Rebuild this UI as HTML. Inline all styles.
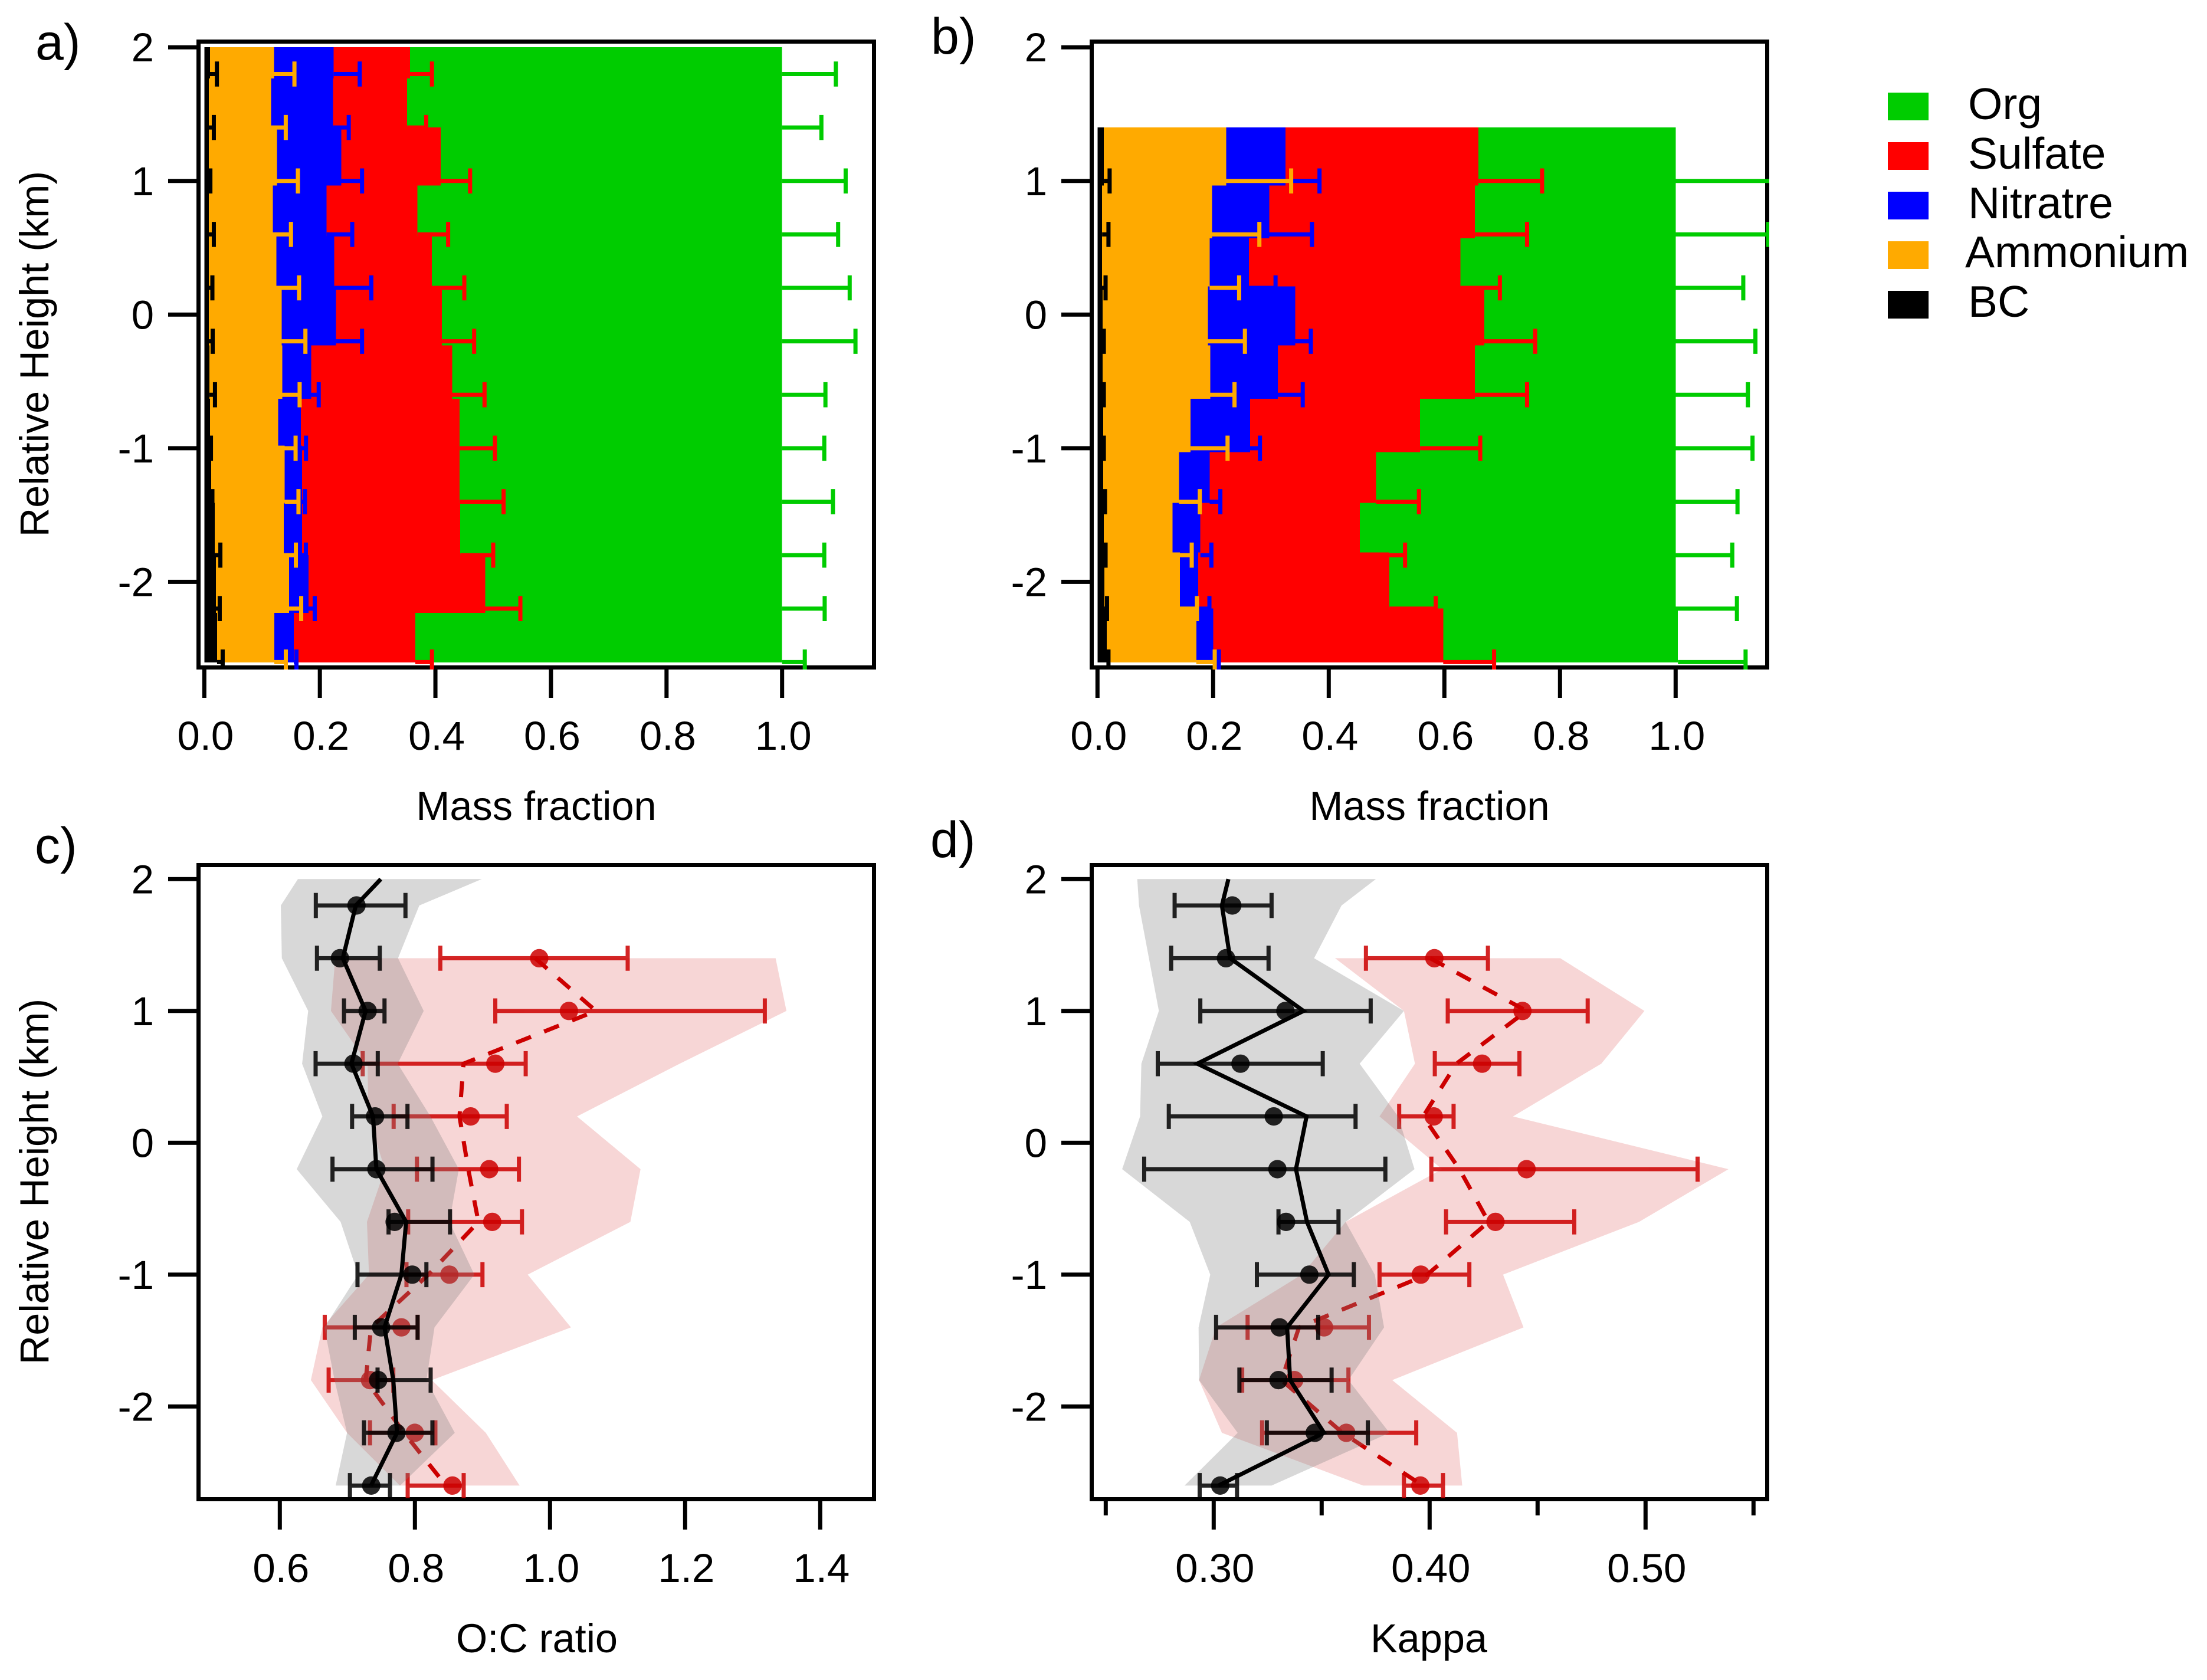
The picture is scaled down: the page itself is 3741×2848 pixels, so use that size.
<!DOCTYPE html>
<html>
<head>
<meta charset="utf-8">
<title>Mass fraction, O:C ratio and Kappa profiles</title>
<style>
html,body{margin:0;padding:0;background:#fff;}
svg{display:block;font-family:"Liberation Sans",Arial,sans-serif;}
</style>
</head>
<body>
<svg id="fig" xmlns="http://www.w3.org/2000/svg" width="3741" height="2848" viewBox="0 0 3741 2848">
  <rect width="3741" height="2848" fill="#fff"/>
  <g id="legend" font-size="75" fill="#000">
    <rect x="3200" y="157" width="69" height="47" fill="#00cc00"/>
    <text x="3336" y="202">Org</text>
    <rect x="3200" y="241" width="69" height="47" fill="#ff0000"/>
    <text x="3336" y="286">Sulfate</text>
    <rect x="3200" y="325" width="69" height="47" fill="#0000ff"/>
    <text x="3336" y="370">Nitratre</text>
    <rect x="3200" y="409" width="69" height="47" fill="#ffaa00"/>
    <text x="3331" y="453">Ammonium</text>
    <rect x="3200" y="493" width="69" height="47" fill="#000"/>
    <text x="3336" y="537">BC</text>
  </g>
  <g font-size="86" fill="#000">
    <text x="60" y="101">a)</text>
    <text x="1578" y="91">b)</text>
    <text x="59" y="1463">c)</text>
    <text x="1577" y="1453">d)</text>
  </g>
  <g font-size="68.5" fill="#000">
    <text x="909" y="1390" text-anchor="middle">Mass fraction</text>
    <text x="2423" y="1390" text-anchor="middle">Mass fraction</text>
    <text x="910" y="2801" text-anchor="middle">O:C ratio</text>
    <text x="2422" y="2801" text-anchor="middle">Kappa</text>
    <text transform="translate(82,600) rotate(-90)" text-anchor="middle">Relative Height (km)</text>
    <text transform="translate(82,2003) rotate(-90)" text-anchor="middle">Relative Height (km)</text>
  </g>
</svg>
<script>
// ---------- shared tick arrays ----------
const yTicks = [2, 1, 0, -1, -2];
const fractionTicks = [0, 0.2, 0.4, 0.6, 0.8, 1.0];
const ocTicks = [0.6, 0.8, 1.0, 1.2, 1.4];
const kappaMajorTicks = [0.30, 0.40, 0.50];
const kappaMinorTicks = [0.25, 0.35, 0.45, 0.55];

// ---------- panel a: stacked mass fraction (cumulative right edges) ----------
const aBinEdges = [2, 1.768, 1.40, 0.965, 0.586, 0.21, -0.23, -0.63, -0.98, -1.41, -1.80, -2.232, -2.603];
const aHeights = [1.8, 1.4, 1.0, 0.6, 0.2, -0.2, -0.6, -1.0, -1.4, -1.8, -2.2, -2.6];
const aBc = [0.0099, 0.0079, 0.0079, 0.0079, 0.008, 0.008, 0.009, 0.01, 0.012, 0.018, 0.0201, 0.0221];
const aAmmonium = [0.1207, 0.1155, 0.1258, 0.1186, 0.1247, 0.134, 0.135, 0.128, 0.139, 0.1375, 0.1467, 0.1212];
const aNitrate = [0.224, 0.223, 0.237, 0.2117, 0.225, 0.228, 0.185, 0.167, 0.169, 0.169, 0.1804, 0.155];
const aSulfate = [0.356, 0.351, 0.409, 0.369, 0.394, 0.411, 0.429, 0.442, 0.442, 0.443, 0.486, 0.3652];
const aOrg = [1, 1, 1, 1, 1, 1, 1, 1, 1, 1, 1, 1];
const aBcErr = [0.0218, 0.0165, 0.0105, 0.0165, 0.014, 0.0145, 0.0185, 0.0115, 0.014, 0.0278, 0.0267, 0.0318];
const aAmmoniumErr = [0.156, 0.141, 0.162, 0.15, 0.164, 0.175, 0.165, 0.158, 0.163, 0.1585, 0.1677, 0.1411];
const aNitrateErr = [0.269, 0.25, 0.273, 0.256, 0.289, 0.273, 0.198, 0.176, 0.174, 0.1758, 0.1911, 0.1595];
const aSulfateErr = [0.394, 0.384, 0.46, 0.422, 0.45, 0.467, 0.485, 0.503, 0.518, 0.5, 0.547, 0.394];
const aOrgErr = [1.093, 1.068, 1.11, 1.097, 1.117, 1.127, 1.075, 1.073, 1.088, 1.073, 1.0737, 1.0393];

// ---------- panel b: stacked mass fraction (cumulative right edges) ----------
const bBinEdges = [1.40, 0.965, 0.57, 0.21, -0.23, -0.63, -1.03, -1.41, -1.78, -2.2, -2.603];
const bHeights = [1.0, 0.6, 0.2, -0.2, -0.6, -1.0, -1.4, -1.8, -2.2, -2.6];
const bBc = [0.011, 0.008, 0.008, 0.009, 0.009, 0.01, 0.01, 0.011, 0.012, 0.016];
const bAmmonium = [0.2225, 0.198, 0.194, 0.191, 0.195, 0.161, 0.141, 0.13, 0.1425, 0.171];
const bNitrate = [0.325, 0.297, 0.262, 0.342, 0.312, 0.264, 0.194, 0.178, 0.174, 0.2];
const bSulfate = [0.659, 0.653, 0.628, 0.669, 0.653, 0.558, 0.482, 0.454, 0.505, 0.598];
const bOrg = [1, 1, 1, 1, 1, 1, 1, 1, 1, 1.004];
const bBcErr = [0.021, 0.019, 0.014, 0.011, 0.011, 0.011, 0.013, 0.014, 0.0165, 0.019];
const bAmmoniumErr = [0.335, 0.28, 0.245, 0.255, 0.237, 0.225, 0.177, 0.163, 0.172, 0.2028];
const bNitrateErr = [0.384, 0.371, 0.308, 0.369, 0.355, 0.281, 0.2125, 0.197, 0.1936, 0.2099];
const bSulfateErr = [0.769, 0.743, 0.696, 0.757, 0.743, 0.662, 0.556, 0.532, 0.585, 0.686];
const bOrgErr = [1.2, 1.16, 1.117, 1.138, 1.125, 1.133, 1.107, 1.098, 1.106, 1.121];

// ---------- panel c: O:C ratio ----------
const cGreyHeights = [2, 1.8, 1.4, 1.0, 0.6, 0.2, -0.2, -0.6, -1.0, -1.4, -1.8, -2.2, -2.6];
const cPointHeights = [1.8, 1.4, 1.0, 0.6, 0.2, -0.2, -0.6, -1.0, -1.4, -1.8, -2.2, -2.6];
const cRedHeights = [1.4, 1.0, 0.6, 0.2, -0.2, -0.6, -1.0, -1.4, -1.8, -2.2, -2.6];
const cGreyLow = [0.6268, 0.6015, 0.603, 0.642, 0.633, 0.663, 0.625, 0.69, 0.716, 0.666, 0.681, 0.6995, 0.6827];
const cGreyHigh = [0.899, 0.8065, 0.775, 0.813, 0.7745, 0.823, 0.865, 0.851, 0.888, 0.829, 0.817, 0.859, 0.778];
const cBlackLine = [0.7495, 0.7125, 0.6933, 0.727, 0.706, 0.738, 0.743, 0.787, 0.78, 0.755, 0.768, 0.7735, 0.735];
const cBlackDots = [0.7135, 0.689, 0.73, 0.709, 0.741, 0.743, 0.77, 0.796, 0.75, 0.7456, 0.7727, 0.7353];
const cBlackLo = [0.6533, 0.655, 0.695, 0.653, 0.707, 0.678, 0.761, 0.715, 0.711, 0.7447, 0.7246, 0.7038];
const cBlackHi = [0.786, 0.748, 0.755, 0.745, 0.789, 0.826, 0.852, 0.817, 0.804, 0.8233, 0.8259, 0.7631];
const cPinkLow = [0.682, 0.6757, 0.73, 0.731, 0.7555, 0.729, 0.732, 0.663, 0.646, 0.6995, 0.7778];
const cPinkHigh = [1.334, 1.35, 1.192, 1.04, 1.134, 1.119, 0.967, 1.031, 0.825, 0.905, 0.955];
const cRedLine = [0.978, 1.068, 0.872, 0.866, 0.879, 0.894, 0.82, 0.735, 0.7272, 0.784, 0.846];
const cRedDots = [0.984, 1.028, 0.919, 0.8825, 0.91, 0.9145, 0.851, 0.78, 0.7335, 0.7998, 0.8556];
const cRedLo = [0.8376, 0.919, 0.7227, 0.7685, 0.803, 0.79, 0.7875, 0.6665, 0.6723, 0.7335, 0.7893];
const cRedHi = [1.115, 1.318, 0.964, 0.936, 0.954, 0.9585, 0.9, 0.804, 0.768, 0.8303, 0.8722];

// ---------- panel d: Kappa ----------
const dGreyLow = [0.2646, 0.2654, 0.27, 0.2746, 0.2665, 0.2659, 0.2576, 0.2889, 0.2984, 0.293, 0.2932, 0.3111, 0.2865];
const dGreyHigh = [0.3751, 0.3592, 0.3465, 0.3881, 0.3676, 0.3854, 0.393, 0.3611, 0.3746, 0.3789, 0.3624, 0.3814, 0.3268];
const dBlackLine = [0.3068, 0.3038, 0.3076, 0.3416, 0.2924, 0.343, 0.3381, 0.3432, 0.3532, 0.334, 0.3354, 0.3511, 0.3022];
const dBlackDots = [0.3086, 0.3057, 0.3332, 0.3124, 0.3278, 0.3295, 0.3335, 0.3443, 0.3305, 0.33, 0.3468, 0.303];
const dBlackLo = [0.2819, 0.2803, 0.2938, 0.2741, 0.2792, 0.2678, 0.33, 0.32, 0.3011, 0.3119, 0.3246, 0.2935];
const dBlackHi = [0.3268, 0.3254, 0.3727, 0.3505, 0.3657, 0.3795, 0.3578, 0.3649, 0.3484, 0.3546, 0.3714, 0.3108];
const dPinkLow = [0.3562, 0.3881, 0.3932, 0.3768, 0.4057, 0.3611, 0.3408, 0.3011, 0.2932, 0.3038, 0.3692];
const dPinkHigh = [0.4605, 0.4995, 0.4795, 0.4386, 0.5384, 0.497, 0.434, 0.4435, 0.3827, 0.4127, 0.4151];
const dRedLine = [0.4003, 0.4449, 0.4124, 0.397, 0.4138, 0.4273, 0.3989, 0.3395, 0.3314, 0.3597, 0.3968];
const dRedDots = [0.4022, 0.443, 0.4243, 0.4019, 0.4449, 0.4305, 0.3959, 0.3511, 0.3373, 0.3614, 0.3957];
const dRedLo = [0.3705, 0.4084, 0.4024, 0.3859, 0.4008, 0.4076, 0.3768, 0.3157, 0.3132, 0.3224, 0.3881];
const dRedHi = [0.427, 0.4732, 0.4416, 0.4111, 0.5241, 0.467, 0.4184, 0.3719, 0.3624, 0.3938, 0.4062];

// ---------- drawing ----------
const NS = 'http://www.w3.org/2000/svg';
const svg = document.getElementById('fig');
function add(parent, tag, attrs) {
  const n = document.createElementNS(NS, tag);
  for (const k in attrs) n.setAttribute(k, attrs[k]);
  parent.appendChild(n);
  return n;
}
function linear(v0, p0, v1, p1) { return v => p0 + (v - v0) * (p1 - p0) / (v1 - v0); }

const yTop = linear(2, 80.2, -2, 986.4);
const yBot = linear(2, 1490.3, -2, 2384.3);
const xA = linear(0, 346.3, 1, 1325.7);
const xB = linear(0, 1860.3, 1, 2840.3);
const xC = linear(0.6, 474.3, 0.8, 703.3);
const xD = linear(0.3, 2057.3, 0.5, 2789.3);

function frame(id, x0, y0, x1, y1) {
  const g = add(svg, 'g', {});
  
  
  const f = add(g, 'rect', {x: x0 + 3.5, y: y0 + 3.5, width: x1 - x0 - 7, height: y1 - y0 - 7, fill: 'none', stroke: '#000', 'stroke-width': 7});
  
  
  const cp = add(add(g, 'clipPath', {id: 'clip-' + id}), 'rect', {x: x0, y: y0, width: x1 - x0, height: y1 - y0});
  
  
  return g;
}
function yAxis(g, yScale, x0) {
  yTicks.forEach(v => {
    const t = add(g, 'rect', {x: x0 - 48, y: yScale(v) - 3.5, width: 48, height: 7, fill: '#000'});
    
    
    const l = add(g, 'text', {x: x0 - 72, y: yScale(v) + 24, 'text-anchor': 'end', 'font-size': 69, fill: '#000'});
    l.textContent = String(v);
    
    
  });
}
function xAxis(g, ticks, minor, xScale, yb, yLabel, digits) {
  ticks.forEach(v => {
    const t = add(g, 'rect', {x: xScale(v) - 3.5, y: yb, width: 7, height: 48, fill: '#000'});
    
    
    const l = add(g, 'text', {x: xScale(v) + 2, y: yLabel, 'text-anchor': 'middle', 'font-size': 69, fill: '#000'});
    l.textContent = v.toFixed(digits);
    
    
  });
  minor.forEach(v => {
    const t = add(g, 'rect', {x: xScale(v) - 3.5, y: yb, width: 7, height: 24, fill: '#000'});
    
    
  });
}
function errorBar(g, x0, x1, y, color, opacity, label) {
  const e = add(g, 'g', {fill: color, opacity: opacity});
  
  
  add(e, 'path', {d: 'M' + Math.min(x0, x1) + ' ' + (y - 3.5) + 'H' + Math.max(x0, x1) + 'V' + (y + 3.5) + 'H' + Math.min(x0, x1) + 'Z'});
  add(e, 'path', {d: 'M' + (x1 - 3.5) + ' ' + (y - 21.3) + 'h7v42.6h-7Z'});
}
function stacked(id, g, edges, heights, series, errs, colors, names, xScale) {
  const plot = add(g, 'g', {'clip-path': 'url(#clip-' + id + ')'});
  
  
  series.forEach((s, k) => {
    s.forEach((v, i) => {
      const from = k === 0 ? 0 : series[k - 1][i];
      const r = add(plot, 'rect', {x: xScale(from), y: yTop(edges[i]), width: xScale(v) - xScale(from), height: yTop(edges[i + 1]) - yTop(edges[i]), fill: colors[k], 'shape-rendering': 'crispEdges'});
      
      
    });
  });
  for (let k = series.length - 1; k >= 0; k--) {
    errs[k].forEach((v, i) => {
      errorBar(plot, xScale(series[k][i]), xScale(v), yTop(heights[i]), colors[k], 1, names[k]);
    });
  }
}
function poly(g, low, high, lowH, highH, xScale, fill, alpha, label) {
  const pts = [];
  low.forEach((v, i) => pts.push(xScale(v) + ',' + yBot(lowH[i])));
  for (let i = high.length - 1; i >= 0; i--) pts.push(xScale(high[i]) + ',' + yBot(highH[i]));
  const p = add(g, 'polygon', {points: pts.join(' '), fill: fill, opacity: alpha});
  
  
}
function line(g, vals, hs, xScale, color, dash, label) {
  const pts = vals.map((v, i) => xScale(v) + ',' + yBot(hs[i])).join(' ');
  const attrs = {points: pts, fill: 'none', stroke: color, 'stroke-width': 7, 'stroke-linejoin': 'miter'};
  if (dash) attrs['stroke-dasharray'] = dash;
  const p = add(g, 'polyline', attrs);
  
  
}
function points(g, vals, lo, hi, hs, xScale, color, label) {
  vals.forEach((v, i) => {
    const e = add(g, 'g', {fill: color, opacity: 0.85});
    
    
    const y = yBot(hs[i]);
    add(e, 'rect', {x: xScale(lo[i]), y: y - 3.5, width: xScale(hi[i]) - xScale(lo[i]), height: 7});
    add(e, 'rect', {x: xScale(lo[i]) - 3.5, y: y - 21.3, width: 7, height: 42.6});
    add(e, 'rect', {x: xScale(hi[i]) - 3.5, y: y - 21.3, width: 7, height: 42.6});
  });
  vals.forEach((v, i) => {
    const c = add(g, 'circle', {cx: xScale(v), cy: yBot(hs[i]), r: 15.6, fill: color, opacity: 0.85});
    
    
  });
}

const stackColors = ['#000000', '#ffaa00', '#0000ff', '#ff0000', '#00cc00'];
const stackNames = ['bc', 'ammonium', 'nitrate', 'sulfate', 'org'];

// Panel a
const gA = frame('a', 333, 67, 1485, 1135);
yAxis(gA, yTop, 333);
xAxis(gA, fractionTicks, [], xA, 1135, 1271, 1);
stacked('a', gA, aBinEdges, aHeights, [aBc, aAmmonium, aNitrate, aSulfate, aOrg], [aBcErr, aAmmoniumErr, aNitrateErr, aSulfateErr, aOrgErr], stackColors, stackNames, xA);

// Panel b
const gB = frame('b', 1847, 67, 2999, 1135);
yAxis(gB, yTop, 1847);
xAxis(gB, fractionTicks, [], xB, 1135, 1271, 1);
stacked('b', gB, bBinEdges, bHeights, [bBc, bAmmonium, bNitrate, bSulfate, bOrg], [bBcErr, bAmmoniumErr, bNitrateErr, bSulfateErr, bOrgErr], stackColors, stackNames, xB);

// Panels c and d
function profile(id, g, xScale, gl, gh, bl, bd, blo, bhi, pl, ph, rl, rd, rlo, rhi) {
  const plot = add(g, 'g', {'clip-path': 'url(#clip-' + id + ')'});
  
  
  poly(plot, pl, ph, cRedHeights, cRedHeights, xScale, '#cc0000', 0.16, 'red');
  line(plot, rl, cRedHeights, xScale, '#cc0000', '27 24', 'red');
  points(plot, rd, rlo, rhi, cRedHeights, xScale, '#cc0000', 'red');
  poly(plot, gl, gh, cGreyHeights, cGreyHeights, xScale, '#808080', 0.31, 'grey');
  points(plot, bd, blo, bhi, cPointHeights, xScale, '#000000', 'black');
  line(plot, bl, cGreyHeights, xScale, '#000000', null, 'black');
}
const gC = frame('c', 333, 1463, 1485, 2545);
yAxis(gC, yBot, 333);
xAxis(gC, ocTicks, [], xC, 2545, 2682, 1);
profile('c', gC, xC, cGreyLow, cGreyHigh, cBlackLine, cBlackDots, cBlackLo, cBlackHi, cPinkLow, cPinkHigh, cRedLine, cRedDots, cRedLo, cRedHi);

const gD = frame('d', 1847, 1463, 2999, 2545);
yAxis(gD, yBot, 1847);
xAxis(gD, kappaMajorTicks, kappaMinorTicks, xD, 2545, 2682, 2);
profile('d', gD, xD, dGreyLow, dGreyHigh, dBlackLine, dBlackDots, dBlackLo, dBlackHi, dPinkLow, dPinkHigh, dRedLine, dRedDots, dRedLo, dRedHi);
</script>
</body>
</html>
